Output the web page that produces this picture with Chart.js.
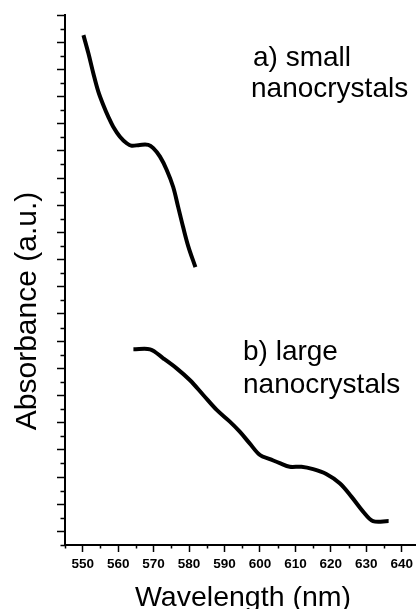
<!DOCTYPE html>
<html>
<head>
<meta charset="utf-8">
<script src="https://cdn.jsdelivr.net/npm/chart.js@4.4.0/dist/chart.umd.min.js"></script>
<style>
  body { margin: 0; background: #fff; }
  canvas { display: block; }
</style>
</head>
<body>
<canvas id="myChart" width="417" height="609"></canvas>
<script>
// curve a) small nanocrystals
let wavelengthsA = [550.2, 551.6, 553.0, 554.4, 555.8, 557.2, 558.6, 560.5, 562.4, 563.8, 566.1, 568.5, 569.9, 571.8, 573.7, 575.5, 576.9, 578.3, 579.8, 581.8];
let absorbanceA = [18.26, 17.59, 16.85, 16.18, 15.69, 15.26, 14.89, 14.52, 14.28, 14.19, 14.22, 14.22, 14.10, 13.79, 13.30, 12.68, 11.95, 11.21, 10.48, 9.72];

// curve b) large nanocrystals
let wavelengthsB = [564.3, 569.0, 572.7, 576.5, 580.2, 584.0, 587.8, 591.5, 594.3, 597.1, 600.0, 602.8, 605.6, 608.4, 611.7, 615.0, 618.7, 622.5, 625.8, 629.1, 631.9, 636.3];
let absorbanceB = [6.70, 6.70, 6.37, 6.00, 5.57, 5.02, 4.47, 4.04, 3.67, 3.24, 2.81, 2.66, 2.51, 2.38, 2.38, 2.29, 2.11, 1.77, 1.28, 0.73, 0.38, 0.38];

let xMin = 545, xMax = 644, xStep = 10;
let yMin = -0.5, yMax = 19, yStep = 1;

let labelA = ['a) small', 'nanocrystals'];
let labelB = ['b) large', 'nanocrystals'];
let xTitle = 'Wavelength (nm)';
let yTitle = 'Absorbance (a.u.)';

function toPoints(xs, ys) {
    let pts = [];
    xs.map((x, i) => {
        pts.push({x: x, y: ys[i]});
    });
    return pts;
}

const FONT = "'Liberation Sans', Arial, sans-serif";

// minor ticks and the text labels
const extras = {
    id: 'extras',
    afterDraw(chart) {
        const ctx = chart.ctx;
        const xs = chart.scales.x;
        const ys = chart.scales.y;
        const area = chart.chartArea;
        ctx.save();
        ctx.strokeStyle = '#000';
        ctx.lineWidth = 1.5;
        ctx.beginPath();
        for (let v = xMin; v <= xMax; v += xStep) {
            let px = Math.round(xs.getPixelForValue(v)) + 0.5;
            ctx.moveTo(px, area.bottom);
            ctx.lineTo(px, area.bottom + 3.5);
        }
        for (let v = yMin; v <= yMax; v += yStep) {
            let py = Math.round(ys.getPixelForValue(v)) + 0.5;
            ctx.moveTo(area.left, py);
            ctx.lineTo(area.left - 4.5, py);
        }
        ctx.stroke();

        ctx.fillStyle = '#000';
        ctx.textAlign = 'left';
        ctx.textBaseline = 'alphabetic';
        ctx.font = '28px ' + FONT;
        ctx.fillText(labelA[0], 253, 66);
        ctx.fillText(labelA[1], 251, 97);
        ctx.fillText(labelB[0], 243, 360);
        ctx.fillText(labelB[1], 243, 393);

        ctx.font = '28.5px ' + FONT;
        ctx.textAlign = 'center';
        ctx.fillText(xTitle, 243, 606);

        ctx.font = '30px ' + FONT;
        ctx.translate(36, 311);
        ctx.rotate(-Math.PI / 2);
        ctx.fillText(yTitle, 0, 0);
        ctx.restore();
    }
};

var ctx = document.getElementById('myChart').getContext('2d');
var myChart = new Chart(ctx, {
    type: 'line',
    data: {
        datasets: [{
            label: 'small',
            data: toPoints(wavelengthsA, absorbanceA),
            borderColor: '#000',
            borderWidth: 4,
            pointRadius: 0,
            tension: 0.35,
            fill: false
        }, {
            label: 'large',
            data: toPoints(wavelengthsB, absorbanceB),
            borderColor: '#000',
            borderWidth: 4,
            pointRadius: 0,
            tension: 0.35,
            fill: false
        }]
    },
    options: {
        responsive: false,
        devicePixelRatio: 1,
        animation: false,
        layout: { padding: { top: 15, right: 0, left: 0, bottom: 0 } },
        plugins: {
            legend: { display: false },
            tooltip: { enabled: false }
        },
        scales: {
            x: {
                type: 'linear',
                min: xMin,
                max: xMax,
                afterFit: function (scale) { scale.height = 64; },
                border: { color: '#000', width: 2 },
                grid: { drawOnChartArea: false, drawTicks: true, tickLength: 7, tickColor: '#000', tickWidth: 1.5 },
                ticks: {
                    stepSize: xStep,
                    includeBounds: false,
                    maxRotation: 0,
                    autoSkip: false,
                    color: '#000',
                    padding: 4,
                    font: { family: FONT, size: 13.5, weight: 'bold' }
                }
            },
            y: {
                type: 'linear',
                min: yMin,
                max: yMax,
                afterFit: function (scale) { scale.width = 65; },
                border: { color: '#000', width: 2 },
                grid: { drawOnChartArea: false, drawTicks: true, tickLength: 8, tickColor: '#000', tickWidth: 1.5 },
                ticks: {
                    stepSize: yStep,
                    includeBounds: false,
                    display: false
                }
            }
        }
    },
    plugins: [extras]
});
</script>
</body>
</html>
